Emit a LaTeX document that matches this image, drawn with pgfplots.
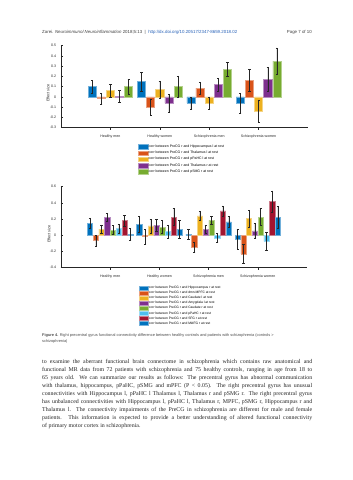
\documentclass[border=0pt]{standalone}
\usepackage{pgfplots}
\pgfplotsset{compat=1.18}
\usepackage{pgfplotstable}
\usepackage{fontspec}
\setmainfont{Liberation Serif}
\setsansfont{Liberation Sans}

\definecolor{mb}{rgb}{0,0.447,0.741}
\definecolor{mo}{rgb}{0.85,0.325,0.098}
\definecolor{my}{rgb}{0.929,0.694,0.125}
\definecolor{mp}{rgb}{0.494,0.184,0.556}
\definecolor{mg}{rgb}{0.466,0.674,0.188}
\definecolor{mc}{rgb}{0.301,0.745,0.933}
\definecolor{mr}{rgb}{0.635,0.078,0.184}
\definecolor{linkblue}{rgb}{0.15,0.38,0.72}
\definecolor{axgray}{rgb}{0.15,0.15,0.15}

\pgfplotstableread{
x  a      ea     b       eb     c      ec     d      ed     e     ee
1  0.10   0.06   -0.015  0.052  0.06   0.06   0.005  0.06   0.10  0.072
2  0.15   0.09   -0.10   0.08   0.07   0.085  -0.06  0.085  0.10  0.105
3  -0.06  0.06   0.085   0.055  -0.06  0.06   0.12   0.06   0.27  0.068
4  -0.06  0.10   0.16    0.107  -0.14  0.11   0.175  0.115  0.35  0.13
}\topdata

\pgfplotstableread{
x  a      ea     b       eb     c      ec     d      ed     e      ee     f       ef     g      eg     h      eh
1  0.15   0.065  -0.065  0.065  0.075  0.055  0.22   0.05   0.065  0.055  0.085   0.055  0.18   0.065  0.015  0.075
2  0.135  0.095  -0.015  0.09   0.115  0.085  0.125  0.075  0.10   0.08   0.05    0.08   0.225  0.105  0.075  0.11
3  0.01   0.06   -0.145  0.065  0.24   0.055  0.075  0.045  0.185  0.045  -0.035  0.055  0.30   0.065  0.165  0.065
4  -0.05  0.12   -0.23   0.12   0.205  0.105  0.055  0.095  0.225  0.105  -0.075  0.11   0.42   0.13   0.225  0.135
}\botdata

\pgfplotsset{
  mbarT/.style={fill=#1, draw=#1!55!white, line width=0.6bp,
    legend image code/.code={\draw[##1, line width=0.5bp] (0bp,-2.3bp) rectangle (9.5bp,2.3bp);}},
  mbarB/.style={fill=#1, draw=#1!55!white, line width=0.5bp,
    legend image code/.code={\draw[##1, line width=0.5bp] (0bp,-1.9bp) rectangle (9.5bp,1.9bp);}},
  matlabaxis/.style={
    scale only axis, anchor=south west,
    xmin=0, xmax=5,
    axis x line=bottom, axis y line=left,
    axis line style={-, axgray, line width=0.4bp},
    xtick={1,2,3,4},
    xticklabels={Healthy men,Healthy women,Schizophrenia men,Schizophrenia women},
    tick align=inside, major tick length=2bp,
    tick style={axgray, line width=0.4bp},
    ticklabel style={font=\sffamily\fontsize{3.6}{4}\selectfont, text=axgray},
    /pgf/number format/assume math mode=true,
    /pgf/number format/fixed,
    yticklabel style={xshift=-1.3bp},
    xticklabel style={yshift=-1.8bp},
    ylabel={Effect size},
    ylabel style={font=\sffamily\fontsize{3.8}{4}\selectfont, text=axgray, anchor=center},
    ybar,
    error bars/y dir=both, error bars/y explicit,
    error bars/error bar style={line width=0.45bp, black!85},
    error bars/error mark options={rotate=90, mark size=1.1bp, line width=0.45bp, black!85},
    legend cell align=left,
  },
}

\begin{document}
\begin{tikzpicture}
\fill[white] (0,0) rectangle (353bp,480bp);
\useasboundingbox (0,0) rectangle (353bp,480bp);

% header
\node[anchor=west, inner sep=0, font=\sffamily\fontsize{4.4}{5}\selectfont, text=black!75] at (42bp,447.7bp)
 {Zarei. \textit{Neuroimmunol Neuroinflammation} 2018;5:13\ \ \textbar\ \ \textcolor{linkblue}{http://dx.doi.org/10.20517/2347-8659.2018.02}};
\node[anchor=east, inner sep=0, font=\sffamily\fontsize{4.4}{5}\selectfont, text=black!75] at (312bp,447.7bp) {Page 7 of 10};

% top chart
\begin{axis}[matlabaxis,
  at={(61bp,352.3bp)}, width=247bp, height=82bp,
  ymin=-0.3, ymax=0.5,
  ytick={-0.3,-0.2,-0.1,0,0.1,0.2,0.3,0.4,0.5},
  bar width=0.165,
  ylabel style={at={(axis description cs:-0.053,0.42)}},
  legend style={at={(0.312,-0.199)}, anchor=north west, draw=none, fill=none, inner sep=0pt,
    font=\sffamily\fontsize{3.5}{4}\selectfont, row sep=1.2bp,
    nodes={inner sep=0.4bp, anchor=west},
    /tikz/every even column/.append style={column sep=0.6bp}},
]
\addplot[mbarT=mb, bar shift=-0.37] table[x=x, y=a, y error=ea] {\topdata};
\addplot[mbarT=mo, bar shift=-0.185] table[x=x, y=b, y error=eb] {\topdata};
\addplot[mbarT=my, bar shift=0] table[x=x, y=c, y error=ec] {\topdata};
\addplot[mbarT=mp, bar shift=0.185] table[x=x, y=d, y error=ed] {\topdata};
\addplot[mbarT=mg, bar shift=0.37] table[x=x, y=e, y error=ee] {\topdata};
\legend{corr between PreCG r and Hippocampus l at rest,
corr between PreCG r and Thalamus l at rest,
corr between PreCG r and pPaHC l at rest,
corr between PreCG r and Thalamus r at rest,
corr between PreCG r and pSMG r at rest}
\end{axis}

% bottom chart
\begin{axis}[matlabaxis,
  at={(61bp,212.3bp)}, width=246bp, height=81bp,
  ymin=-0.4, ymax=0.6,
  ytick={-0.4,-0.2,0,0.2,0.4,0.6},
  bar width=0.105,
  ylabel style={at={(axis description cs:-0.049,0.416)}},
  legend style={at={(0.315,-0.226)}, anchor=north west, draw=none, fill=none, inner sep=0pt,
    font=\sffamily\fontsize{3.3}{4}\selectfont, row sep=0.55bp,
    nodes={inner sep=0.3bp, anchor=west},
    /tikz/every even column/.append style={column sep=0.6bp}},
]
\addplot[mbarB=mb, bar shift=-0.4095] table[x=x, y=a, y error=ea] {\botdata};
\addplot[mbarB=mo, bar shift=-0.2925] table[x=x, y=b, y error=eb] {\botdata};
\addplot[mbarB=my, bar shift=-0.1755] table[x=x, y=c, y error=ec] {\botdata};
\addplot[mbarB=mp, bar shift=-0.0585] table[x=x, y=d, y error=ed] {\botdata};
\addplot[mbarB=mg, bar shift=0.0585] table[x=x, y=e, y error=ee] {\botdata};
\addplot[mbarB=mc, bar shift=0.1755] table[x=x, y=f, y error=ef] {\botdata};
\addplot[mbarB=mr, bar shift=0.2925] table[x=x, y=g, y error=eg] {\botdata};
\addplot[mbarB=mb, bar shift=0.4095] table[x=x, y=h, y error=eh] {\botdata};
\legend{corr between PreCG r and Hippocampus r at rest,
corr between PreCG r and dmn.MPFC at rest,
corr between PreCG r and Caudate l at rest,
corr between PreCG r and Amygdala l at rest,
corr between PreCG r and Caudate r at rest,
corr between PreCG r and pPaHC r at rest,
corr between PreCG r and SFG r at rest,
corr between PreCG r and MidFG r at rest}
\end{axis}

% caption
\node[anchor=north west, inner sep=0, align=left, font=\sffamily\fontsize{3.9}{6}\selectfont, text=black!70] at (42bp,146.7bp)
 {\textbf{Figure 4.} Right precentral gyrus functional connectivity difference between healthy controls and patients with schizophrenia (controls >\\schizophrenia)};

% paragraph
\node[anchor=north west, inner sep=0, align=left, font=\rmfamily\fontsize{5.9}{8}\selectfont, text=black!85] at (42bp,120.7bp)
 {\hbox to 270bp{to examine the aberrant functional brain connectome in schizophrenia which contains raw anatomical and}\\
  \hbox to 270bp{functional MR data from 72 patients with schizophrenia and 75 healthy controls, ranging in age from 18 to}\\
  \hbox to 270bp{65 years old. We can summarize our results as follows: The precentral gyrus has abnormal communication}\\
  \hbox to 270bp{with thalamus, hippocampus, pPaHC, pSMG and mPFC (P < 0.05). The right precentral gyrus has unusual}\\
  \hbox to 270bp{connectivities with Hippocampus l, pPaHC l Thalamus l, Thalamus r and pSMG r. The right precentral gyrus}\\
  \hbox to 270bp{has unbalanced connectivities with Hippocampus l, pPaHC l, Thalamus r, MPFC, pSMG r, Hippocampus r and}\\
  \hbox to 270bp{Thalamus l. The connectivity impairments of the PreCG in schizophrenia are different for male and female}\\
  \hbox to 270bp{patients. This information is expected to provide a better understanding of altered functional connectivity}\\
  of primary motor cortex in schizophrenia.};
\end{tikzpicture}
\end{document}
